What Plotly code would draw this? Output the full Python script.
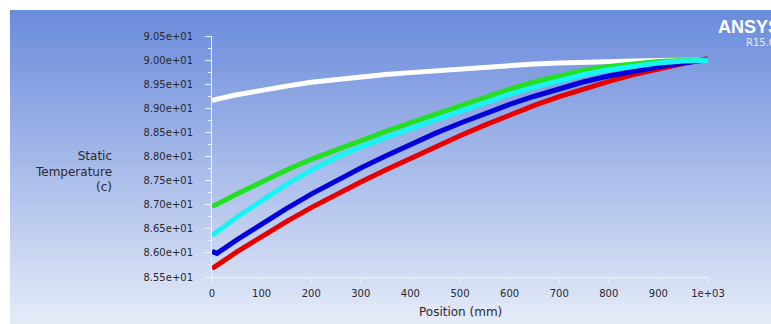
import plotly.graph_objects as go

# ---- data ----
positions = [0, 10, 50, 100, 150, 200, 250, 300, 350, 400, 450, 500,
             550, 600, 650, 700, 750, 800, 850, 900, 950, 1000]

white = [89.16, 89.19, 89.28, 89.38, 89.46, 89.54, 89.60, 89.65, 89.70, 89.74, 89.78,
         89.82, 89.86, 89.89, 89.92, 89.94, 89.96, 89.97, 89.98, 89.99, 89.995, 90.0]
red = [85.68, 85.74, 86.02, 86.34, 86.65, 86.94, 87.21, 87.47, 87.72, 87.96, 88.20,
       88.43, 88.65, 88.86, 89.06, 89.24, 89.41, 89.56, 89.70, 89.82, 89.93, 90.03]
blue = [86.03, 85.99, 86.27, 86.60, 86.92, 87.22, 87.50, 87.76, 88.01, 88.25, 88.48,
        88.69, 88.89, 89.08, 89.25, 89.41, 89.55, 89.67, 89.77, 89.86, 89.94, 90.01]
green = [86.97, 87.01, 87.22, 87.47, 87.72, 87.94, 88.14, 88.34, 88.52, 88.70, 88.88,
         89.06, 89.24, 89.40, 89.55, 89.68, 89.79, 89.87, 89.93, 89.97, 89.99, 90.0]
cyan = [86.36, 86.44, 86.74, 87.08, 87.42, 87.72, 87.98, 88.20, 88.40, 88.58, 88.76,
        88.94, 89.12, 89.29, 89.44, 89.58, 89.70, 89.80, 89.88, 89.94, 89.98, 89.99]

y_tickvals = [85.5, 86.0, 86.5, 87.0, 87.5, 88.0, 88.5, 89.0, 89.5, 90.0, 90.5]
y_ticktext = ["8.55e+01", "8.60e+01", "8.65e+01", "8.70e+01", "8.75e+01", "8.80e+01",
              "8.85e+01", "8.90e+01", "8.95e+01", "9.00e+01", "9.05e+01"]
x_tickvals = [0, 100, 200, 300, 400, 500, 600, 700, 800, 900, 1000]
x_ticktext = ["0", "100", "200", "300", "400", "500", "600", "700", "800", "900", "1e+03"]

# ---- geometry (reference pixels; body margin removed by post_script) ----
W, H = 771, 324
L, R, T, B = 212, 708, 36, 277
pw, ph = R - L, B - T


def px(x):
    return (x - L) / pw


def py(y):
    return (B - y) / ph


fig = go.Figure()
series = [("white", white, "#ffffff"), ("red", red, "#e80000"),
          ("blue", blue, "#0000dc"), ("green", green, "#22e022"),
          ("cyan", cyan, "#18f4f4")]
for name, vals, col in series:
    fig.add_trace(go.Scatter(x=positions, y=vals, mode="lines", name=name,
                             line=dict(color=col, width=5), showlegend=False,
                             hoverinfo="skip"))

# background vertical gradient (blue to pale)
shapes = []
top_c = (106, 139, 220)
bot_c = (229, 235, 248)
y0, y1 = 10, 324
n = 105
step = (y1 - y0) / n
for i in range(n):
    a = y0 + i * step
    b = a + step + 0.6
    t = (i + 0.5) / n
    c = tuple(int(round(top_c[k] + (bot_c[k] - top_c[k]) * t)) for k in range(3))
    shapes.append(dict(type="rect", xref="paper", yref="paper", layer="below",
                       x0=px(10), x1=px(775), y0=py(min(b, 328)), y1=py(a),
                       line=dict(width=0), fillcolor="rgb(%d,%d,%d)" % c))

axis_col = "#eef2fa"
font_fam = "DejaVu Sans"
txt_col = "#2a2a2a"

fig.update_layout(
    width=W, height=H,
    margin=dict(l=L, r=W - R, t=T, b=H - B, pad=0),
    paper_bgcolor="white", plot_bgcolor="rgba(0,0,0,0)",
    shapes=shapes,
    font=dict(family=font_fam, size=10, color=txt_col),
    xaxis=dict(range=[0, 1000], tickvals=x_tickvals, ticktext=x_ticktext,
               showgrid=False, zeroline=False, showline=True, linecolor=axis_col,
               linewidth=1, ticks="outside", ticklen=5, tickcolor=axis_col,
               tickfont=dict(size=10, color=txt_col, family=font_fam),
               ticklabelstandoff=2),
    yaxis=dict(range=[85.5, 90.5], tickvals=y_tickvals, ticktext=y_ticktext,
               showgrid=False, zeroline=False, showline=True, linecolor=axis_col,
               linewidth=1, ticks="outside", ticklen=6, tickcolor=axis_col,
               minor=dict(tickvals=[85.75, 86.25, 86.75, 87.25, 87.75, 88.25,
                                    88.75, 89.25, 89.75, 90.25],
                          ticks="outside", ticklen=3, tickcolor=axis_col),
               tickfont=dict(size=10, color=txt_col, family=font_fam),
               ticklabelstandoff=10),
    annotations=[
        dict(text="Static<br>Temperature<br>(c)", xref="paper", yref="paper",
             x=px(114), y=py(171), xanchor="right", yanchor="middle", align="right",
             showarrow=False, font=dict(size=12, color=txt_col, family=font_fam)),
        dict(text="Position (mm)", xref="paper", yref="paper",
             x=0.5, y=py(312), xanchor="center", yanchor="middle",
             showarrow=False, font=dict(size=12, color=txt_col, family=font_fam)),
        dict(text="<b>ANSYS</b>", xref="paper", yref="paper",
             x=px(716), y=py(15), xanchor="left", yanchor="top",
             showarrow=False, font=dict(size=18, color="white", family="Liberation Sans")),
        dict(text="R15.0", xref="paper", yref="paper",
             x=px(744), y=py(35), xanchor="left", yanchor="top",
             showarrow=False, font=dict(size=10, color="#e4ebfa", family="DejaVu Sans")),
    ],
)

fig.write_html("out.html",
               config={"displayModeBar": False, "staticPlot": True},
               post_script="document.body.style.margin='0';"
                           "document.body.style.overflow='hidden';")
